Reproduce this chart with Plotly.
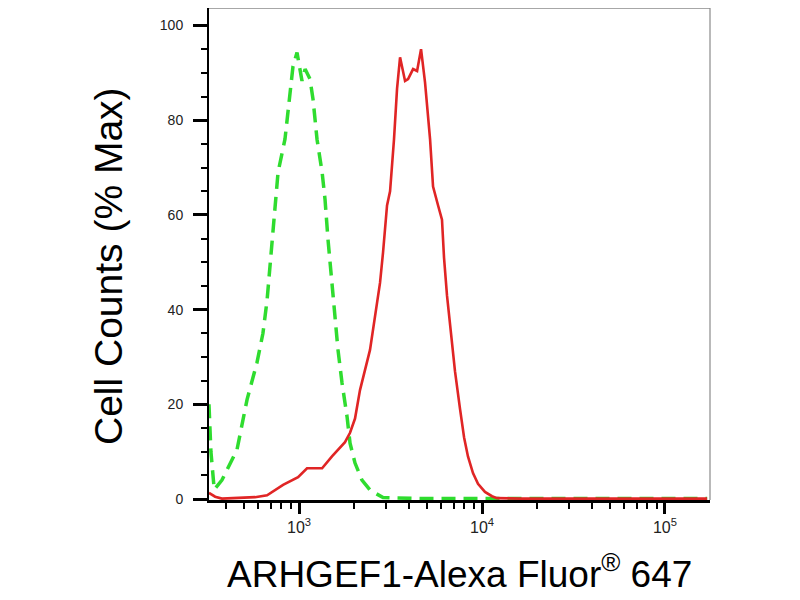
import plotly.graph_objects as go

# isotype control (green dashed) and ARHGEF1 stained (red solid) histograms
control_x = [322, 330, 344, 379, 458, 520, 589, 635, 669, 703, 740, 768, 838, 881,
             927, 975, 1038, 1079, 1148, 1193, 1254, 1337, 1387, 1440, 1514, 1573,
             1633, 1718, 1830, 1900, 2023, 2208, 2443, 2877, 4580, 10000, 170000]
control_y = [20, 10, 2, 4, 10.4, 21, 28.8, 35, 42, 52, 60.5, 69, 76, 84.4,
             91.4, 94.3, 88.3, 90.8, 88.7, 84.4, 76, 69, 63.3, 54.8, 45.7, 38.5,
             31.5, 24.5, 17.4, 11.8, 7.6, 4, 1.9, 0.3, 0.1, 0.1, 0.1]

stained_x = [322, 348, 379, 494, 575, 669, 818, 988, 1106, 1337, 1514, 1783, 1900,
             2023, 2154, 2443, 2772, 2877, 3027, 3144, 3305, 3433, 3566, 3797, 3945,
             4200, 4417, 4643, 4882, 5201, 5401, 5754, 6044, 6200, 6436, 6770, 7117,
             7586, 7982, 8380, 8926, 9508, 10380, 11340, 12080, 16140, 170000]
stained_y = [1.3, 0.5, 0.1, 0.2, 0.4, 0.8, 3.0, 4.6, 6.5, 6.5, 9, 12, 14,
             17, 23, 31.5, 45.7, 52, 62, 65, 76, 86.6, 93.3, 88.3, 88.7,
             90.8, 90.4, 95, 88, 76, 66, 62, 59, 51, 43, 35, 27,
             19, 13, 9, 5.5, 3.2, 1.5, 0.6, 0.2, 0.1, 0.1]

x_major = [1e3, 1e4, 1e5]
x_major_text = ["10<sup>3</sup>", "10<sup>4</sup>", "10<sup>5</sup>"]
x_minor = [m * d for d in (100, 1000, 10000) for m in range(2, 10) if m * d > 330]
y_major = [0, 20, 40, 60, 80, 100]

x_title = "ARHGEF1-Alexa Fluor<sup>®</sup> 647"
y_title = "Cell Counts (% Max)"

font = "Liberation Sans, Arial, sans-serif"

fig = go.Figure()
fig.add_trace(go.Scatter(x=control_x, y=control_y, mode="lines",
                         line=dict(color="#2fdc2f", width=3.5, dash="14px,8px")))
fig.add_trace(go.Scatter(x=stained_x, y=stained_y, mode="lines",
                         line=dict(color="#e02525", width=2.6)))

fig.update_layout(
    width=792, height=592,
    margin=dict(l=201, r=90, t=0, b=100),
    paper_bgcolor="white", plot_bgcolor="white",
    showlegend=False,
    font=dict(family=font, color="#111"),
    shapes=[
        dict(type="line", xref="paper", yref="paper", x0=0, x1=1, y0=1, y1=1,
             line=dict(color="#8a8a8a", width=1.5)),
        dict(type="line", xref="paper", yref="paper", x0=1, x1=1, y0=0, y1=1,
             line=dict(color="#8a8a8a", width=1.2)),
    ],
    annotations=[
        dict(text=x_title, xref="paper", yref="paper", x=0.5, y=-0.145,
             xanchor="center", yanchor="middle", showarrow=False,
             font=dict(size=37, family=font, color="black")),
        dict(text=y_title, xref="paper", yref="paper", x=-0.2016, y=0.4756,
             xanchor="center", yanchor="middle", showarrow=False, textangle=-90,
             font=dict(size=39, family=font, color="black")),
    ],
)

fig.update_xaxes(
    type="log", range=[2.508, 5.246],
    showgrid=False, zeroline=False,
    showline=True, linecolor="black", linewidth=2.5,
    tickmode="array", tickvals=x_major, ticktext=x_major_text,
    ticks="outside", ticklen=11, tickwidth=3, tickcolor="black",
    tickfont=dict(size=16, color="#222"),
    minor=dict(tickmode="array", tickvals=x_minor, ticks="outside",
               ticklen=6, tickwidth=1.5, tickcolor="black"),
)
fig.update_yaxes(
    range=[-0.2, 103.7],
    showgrid=False, zeroline=False,
    showline=True, linecolor="black", linewidth=2,
    tickmode="array", tickvals=y_major,
    ticks="outside", ticklen=14, tickwidth=2.5, tickcolor="black",
    ticklabelstandoff=7,
    tickfont=dict(size=14, color="#222"),
    minor=dict(dtick=5, tick0=0, ticks="outside",
               ticklen=6, tickwidth=1.5, tickcolor="black"),
)

fig.write_html("out.html")
